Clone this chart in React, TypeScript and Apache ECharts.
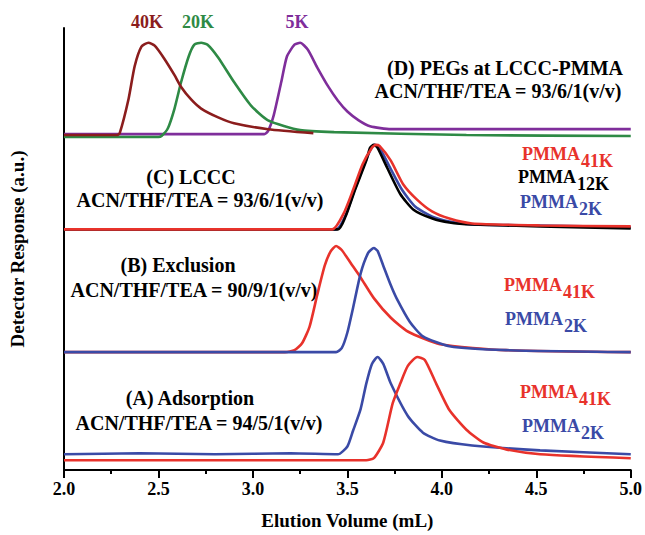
import React, { useEffect, useRef } from "react";
import * as echarts from "echarts";

// x: elution volume (mL), y: detector response (a.u., stacked offsets)
const xTicks = [2.0, 2.5, 3.0, 3.5, 4.0, 4.5, 5.0];

// (D) PEGs at LCCC-PMMA
const peg40K: [number, number][] = [
  [2.0, 341], [2.28, 341], [2.295, 343], [2.342, 378], [2.374, 411], [2.41, 431], [2.447, 435],
  [2.48, 432], [2.53, 419], [2.585, 402], [2.62, 390], [2.674, 377], [2.726, 368],
  [2.816, 359], [2.9, 353], [3.08, 347], [3.32, 343],
];
const peg20K: [number, number][] = [
  [2.0, 339], [2.5, 339], [2.516, 340], [2.55, 348], [2.585, 368], [2.62, 395], [2.66, 421],
  [2.69, 433], [2.726, 435], [2.76, 433], [2.816, 420], [2.9, 395], [2.99, 371],
  [3.08, 356], [3.25, 346], [3.43, 344], [4.13, 341], [5.0, 340],
];
const peg5K: [number, number][] = [
  [2.0, 342], [3.06, 342], [3.08, 345], [3.11, 361], [3.15, 395], [3.18, 421], [3.22, 433],
  [3.25, 435], [3.29, 428], [3.34, 410], [3.4, 390], [3.45, 376], [3.5, 365],
  [3.56, 356], [3.62, 350], [3.73, 347], [5.0, 347],
];

// (C) LCCC
const lcccBlue2K: [number, number][] = [
  [2.0, 245], [3.44, 245], [3.49, 259], [3.54, 286], [3.6, 316], [3.63, 329], [3.645, 331],
  [3.67, 328], [3.72, 310], [3.79, 285], [3.86, 268], [3.95, 258], [4.04, 253],
  [4.16, 250], [4.52, 249], [5.0, 247],
];
const lcccBlack12K: [number, number][] = [
  [2.0, 245], [3.45, 245], [3.49, 258], [3.54, 285], [3.6, 315], [3.62, 328], [3.64, 331],
  [3.66, 328], [3.71, 308], [3.78, 281], [3.85, 265], [3.95, 256], [4.04, 252],
  [4.16, 250], [4.52, 248], [5.0, 246],
];
const lcccRed41K: [number, number][] = [
  [2.0, 245], [3.42, 245], [3.48, 261], [3.53, 285], [3.58, 311], [3.63, 328], [3.65, 331],
  [3.67, 330], [3.73, 315], [3.795, 291], [3.87, 275], [3.95, 263], [4.04, 256],
  [4.16, 251], [4.52, 249], [5.0, 248],
];

// (B) Exclusion
const exclBlue2K: [number, number][] = [
  [2.0, 120], [3.44, 120], [3.47, 124], [3.5, 140], [3.53, 165], [3.57, 200], [3.61, 221],
  [3.64, 226], [3.66, 223], [3.69, 208], [3.73, 188], [3.76, 175], [3.83, 151],
  [3.9, 136], [4.04, 126], [4.34, 122], [5.0, 120],
];
const exclRed41K: [number, number][] = [
  [2.0, 120], [3.17, 120], [3.22, 122], [3.26, 129], [3.3, 146], [3.34, 178], [3.38, 208],
  [3.41, 222], [3.44, 228], [3.47, 224], [3.52, 210], [3.57, 196], [3.64, 175],
  [3.73, 155], [3.82, 141], [3.99, 128], [4.34, 122], [5.0, 120],
];

// (A) Adsorption
const adsBlue2K: [number, number][] = [
  [2.0, 16], [2.4, 17], [2.8, 16], [3.2, 17], [3.45, 16], [3.5, 24], [3.53, 40], [3.57, 62],
  [3.6, 88], [3.63, 108], [3.66, 115], [3.69, 108], [3.73, 88], [3.82, 55],
  [3.9, 38], [3.99, 30], [4.16, 25], [4.52, 20], [5.0, 16],
];
const adsRed41K: [number, number][] = [
  [2.0, 10], [3.6, 10], [3.64, 12], [3.69, 28], [3.74, 68], [3.78, 88], [3.82, 106],
  [3.87, 115], [3.91, 112], [3.97, 88], [4.04, 61], [4.13, 41], [4.22, 28],
  [4.34, 21], [4.52, 16], [5.0, 12],
];

const RED = "#e8322b";
const BLUE = "#3a4aa6";
const BLACK = "#000000";
const DARKRED = "#8b1d1d";
const GREEN = "#2e8a45";
const PURPLE = "#7f2e9b";
const FONT = "'Liberation Serif', 'Times New Roman', serif";

function line(name: string, data: [number, number][], color: string, z: number) {
  return {
    name,
    type: "line",
    data,
    showSymbol: false,
    smooth: 0.2,
    z,
    lineStyle: { color, width: 2.6 },
    itemStyle: { color },
  };
}

function txt(text: string, x: number, y: number, size: number, color: string, align = "center") {
  return {
    type: "text",
    x,
    y,
    style: {
      text,
      fill: color,
      font: `bold ${size}px ${FONT}`,
      textAlign: align,
      textVerticalAlign: "middle",
    },
  };
}

function pmma(sub: string, xj: number, y: number, color: string) {
  return [txt("PMMA", xj, y, 18, color, "right"), txt(sub, xj + 1, y + 7, 18, color, "left")];
}

export default function App() {
  const ref = useRef<HTMLDivElement>(null);
  useEffect(() => {
    if (!ref.current) return;
    const chart = echarts.init(ref.current, null, { renderer: "svg" });
    chart.setOption({
      animation: false,
      backgroundColor: "#ffffff",
      grid: { left: 62, right: 13, top: 28, bottom: 57 },
      xAxis: {
        type: "value",
        min: xTicks[0],
        max: xTicks[xTicks.length - 1],
        interval: 0.5,
        name: "Elution Volume (mL)",
        nameLocation: "middle",
        nameGap: 41,
        nameTextStyle: { color: "#000", fontFamily: FONT, fontWeight: "bold", fontSize: 19 },
        axisLine: { show: true, lineStyle: { color: "#000", width: 2 } },
        axisTick: { show: true, length: 8, lineStyle: { color: "#000", width: 2 } },
        minorTick: { show: true, splitNumber: 2, length: 4, lineStyle: { color: "#000", width: 2 } },
        axisLabel: {
          color: "#000",
          fontFamily: FONT,
          fontWeight: "bold",
          fontSize: 18,
          margin: 10,
          formatter: (v: number) => v.toFixed(1),
        },
        splitLine: { show: false },
      },
      yAxis: {
        type: "value",
        min: 0,
        max: 450,
        name: "Detector Response (a.u.)",
        nameLocation: "middle",
        nameGap: 37,
        nameTextStyle: { color: "#000", fontFamily: FONT, fontWeight: "bold", fontSize: 19 },
        axisLine: { show: true, lineStyle: { color: "#000", width: 2 } },
        axisTick: { show: false },
        axisLabel: { show: false },
        splitLine: { show: false },
      },
      series: [
        line("PEG 5K", peg5K, PURPLE, 2),
        line("PEG 20K", peg20K, GREEN, 3),
        line("PEG 40K", peg40K, DARKRED, 4),
        line("LCCC PMMA2K", lcccBlue2K, BLUE, 2),
        line("LCCC PMMA12K", lcccBlack12K, BLACK, 3),
        line("LCCC PMMA41K", lcccRed41K, RED, 4),
        line("Excl PMMA41K", exclRed41K, RED, 2),
        line("Excl PMMA2K", exclBlue2K, BLUE, 3),
        line("Ads PMMA2K", adsBlue2K, BLUE, 2),
        line("Ads PMMA41K", adsRed41K, RED, 3),
      ],
      graphic: [
        txt("40K", 147, 22, 18, DARKRED),
        txt("20K", 198, 22, 18, GREEN),
        txt("5K", 297, 22, 18, PURPLE),
        txt("(D) PEGs at LCCC-PMMA", 505, 68, 20, "#000"),
        txt("ACN/THF/TEA = 93/6/1(v/v)", 498, 91, 20, "#000"),
        txt("(C) LCCC", 191, 177, 20, "#000"),
        txt("ACN/THF/TEA = 93/6/1(v/v)", 200, 200, 20, "#000"),
        txt("(B) Exclusion", 178, 265, 20, "#000"),
        txt("ACN/THF/TEA = 90/9/1(v/v)", 194, 290, 20, "#000"),
        txt("(A) Adsorption", 190, 398, 20, "#000"),
        txt("ACN/THF/TEA = 94/5/1(v/v)", 199, 423, 20, "#000"),
        ...pmma("41K", 580, 154, RED),
        ...pmma("12K", 576, 177, BLACK),
        ...pmma("2K", 578, 202, BLUE),
        ...pmma("41K", 562, 285, RED),
        ...pmma("2K", 563, 319, BLUE),
        ...pmma("41K", 578, 392, RED),
        ...pmma("2K", 580, 426, BLUE),
      ],
    });
    return () => chart.dispose();
  }, []);
  return (
    <div
      ref={ref}
      style={{ position: "absolute", left: 0, top: 0, width: 645, height: 535 }}
    />
  );
}
